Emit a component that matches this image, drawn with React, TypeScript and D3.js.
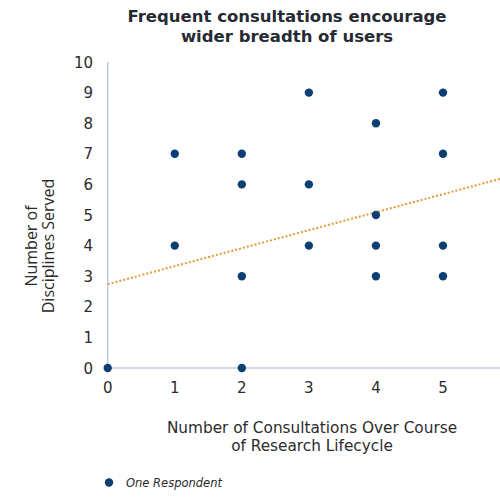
import React, { useEffect, useRef } from "react";
import * as d3 from "d3";

const consultations = [0, 1, 1, 2, 2, 2, 2, 3, 3, 3, 4, 4, 4, 4, 5, 5, 5, 5];
const disciplines = [0, 7, 4, 7, 6, 3, 0, 9, 6, 4, 8, 5, 4, 3, 9, 7, 4, 3];
const xTicks = [0, 1, 2, 3, 4, 5];
const yTicks = [0, 1, 2, 3, 4, 5, 6, 7, 8, 9, 10];
// trendline: intercept, slope
const trend = [2.74, 0.588];

const width = 500;
const height = 500;
const navy = "#0b3f73";
const axisGrey = "#bccbd9";
const textColor = "#2b2b2b";
const verdana = "Verdana, 'DejaVu Sans', sans-serif";

const App = () => {
  const svgRef = useRef(null);

  useEffect(() => {
    const svg = d3.select(svgRef.current);
    svg.selectAll("*").remove();

    const x = d3.scaleLinear().domain([0, 5]).range([107.7, 443]);
    const y = d3.scaleLinear().domain([0, 10]).range([368, 62]);
    const xMax = x.invert(width);

    // title
    svg
      .append("text")
      .attr("x", 287)
      .attr("y", 22)
      .attr("text-anchor", "middle")
      .style("font-family", verdana)
      .style("font-weight", "bold")
      .style("font-size", "16.5px")
      .style("fill", "#262b33")
      .selectAll("tspan")
      .data(["Frequent consultations encourage", "wider breadth of users"])
      .join("tspan")
      .attr("x", 287)
      .attr("dy", (d, i) => (i === 0 ? 0 : 20))
      .text((d) => d);

    // axis lines
    svg
      .append("line")
      .attr("x1", x(0))
      .attr("x2", x(0))
      .attr("y1", y(10))
      .attr("y2", y(0))
      .style("stroke", axisGrey)
      .style("stroke-width", 1.5);
    svg
      .append("line")
      .attr("x1", x(0))
      .attr("x2", width)
      .attr("y1", y(0))
      .attr("y2", y(0))
      .style("stroke", axisGrey)
      .style("stroke-width", 1.5);

    // tick labels
    svg
      .selectAll(".ytick")
      .data(yTicks)
      .join("text")
      .classed("ytick", true)
      .attr("x", 93)
      .attr("y", (d) => y(d) + 5.5)
      .attr("text-anchor", "end")
      .style("font-family", verdana)
      .style("font-size", "15px")
      .style("fill", textColor)
      .text((d) => d);

    svg
      .selectAll(".xtick")
      .data(xTicks)
      .join("text")
      .classed("xtick", true)
      .attr("x", (d) => x(d))
      .attr("y", 393)
      .attr("text-anchor", "middle")
      .style("font-family", verdana)
      .style("font-size", "15px")
      .style("fill", textColor)
      .text((d) => d);

    // trendline
    svg
      .append("line")
      .attr("x1", x(0))
      .attr("y1", y(trend[0]))
      .attr("x2", x(xMax))
      .attr("y2", y(trend[0] + trend[1] * xMax))
      .style("stroke", "#e29a3a")
      .style("stroke-width", 2)
      .style("stroke-dasharray", "2,2");

    // dots
    svg
      .selectAll(".dot")
      .data(consultations.map((c, i) => [c, disciplines[i]]))
      .join("circle")
      .classed("dot", true)
      .attr("cx", (d) => x(d[0]))
      .attr("cy", (d) => y(d[1]))
      .attr("r", 4.2)
      .style("fill", navy);

    // axis titles
    svg
      .append("text")
      .attr("text-anchor", "middle")
      .style("font-family", "'Open Sans', sans-serif")
      .style("font-size", "16px")
      .style("fill", textColor)
      .attr("transform", "translate(0,246) rotate(-90)")
      .selectAll("tspan")
      .data(["Number of", "Disciplines Served"])
      .join("tspan")
      .attr("x", 0)
      .attr("y", (d, i) => (i === 0 ? 37 : 54))
      .text((d) => d);

    svg
      .append("text")
      .attr("text-anchor", "middle")
      .style("font-family", verdana)
      .style("font-size", "15.3px")
      .style("fill", textColor)
      .selectAll("tspan")
      .data(["Number of Consultations Over Course", "of Research Lifecycle"])
      .join("tspan")
      .attr("x", 312)
      .attr("y", (d, i) => (i === 0 ? 432.5 : 450.5))
      .text((d) => d);

    // legend
    svg
      .append("circle")
      .attr("cx", 109)
      .attr("cy", 482.5)
      .attr("r", 4.2)
      .style("fill", navy);
    svg
      .append("text")
      .attr("x", 126)
      .attr("y", 487)
      .style("font-family", verdana)
      .style("font-style", "italic")
      .style("font-size", "11.5px")
      .style("fill", textColor)
      .text("One Respondent");
  }, []);

  return (
    <svg
      ref={svgRef}
      width={width}
      height={height}
      style={{ position: "absolute", left: 0, top: 0, background: "#fff" }}
    ></svg>
  );
};

export default App;
